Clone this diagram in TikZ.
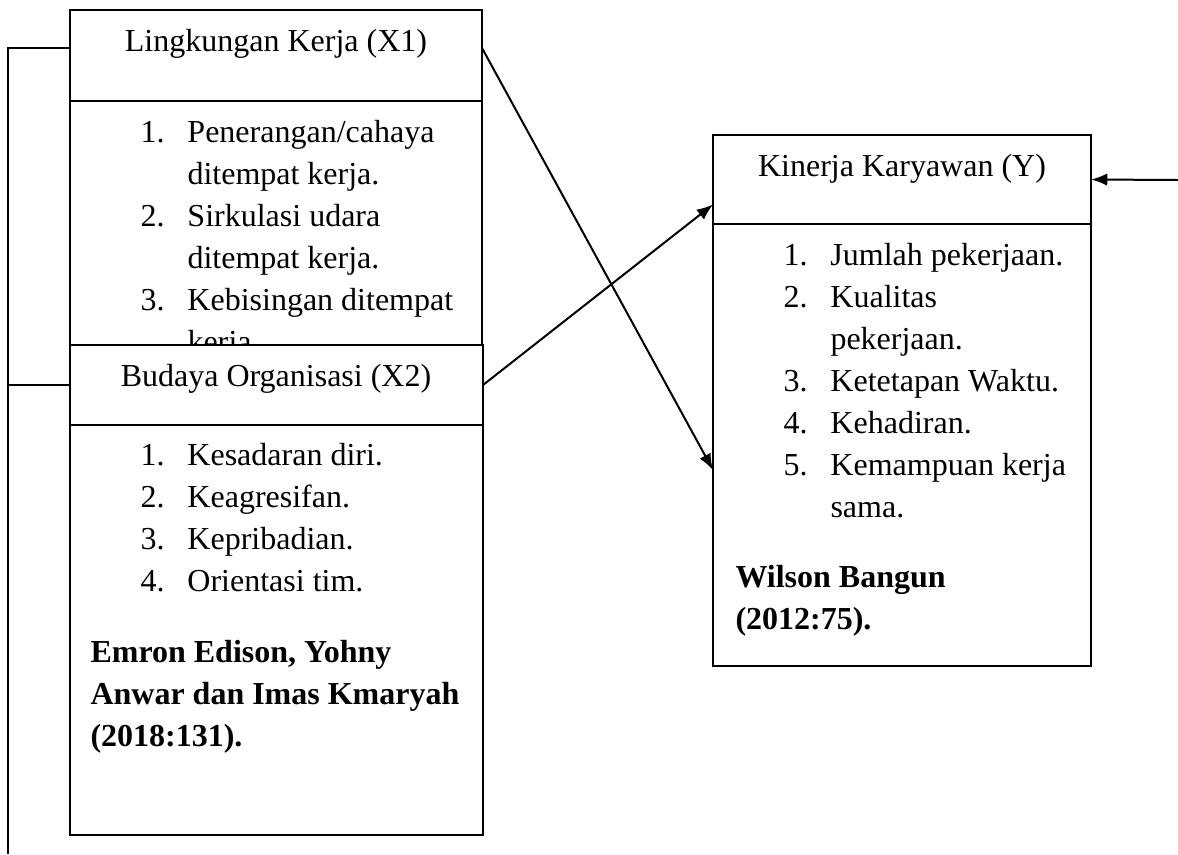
\documentclass[tikz,border=0pt]{standalone}
\usepackage{fontspec}
\setmainfont{Liberation Serif}
\usetikzlibrary{positioning,arrows.meta}

\newcommand{\itemlist}[1]{\begin{tabular}[t]{@{}p{18.8pt}@{}l@{}}#1\end{tabular}}
\newcommand{\srclist}[1]{\begin{tabular}[t]{@{}l@{}}#1\end{tabular}}

\tikzset{
  box/.style={draw, line width=0.8pt, fill=white, inner sep=0pt, outer sep=0pt, anchor=north west},
  txt/.style={inner sep=0pt, anchor=base west},
  src/.style={txt, font=\fontsize{12.8}{16.8}\selectfont\bfseries},
  conn/.style={line width=0.8pt},
  arr/.style={conn, -{Latex[length=6.5pt,width=5pt]}}
}

\begin{document}
\begin{tikzpicture}[x=0.4pt, y=-0.4pt, every node/.style={font=\fontsize{12.8}{16.8}\selectfont}]
\useasboundingbox (0,0) rectangle (1178,854);

% X1
\node[box, minimum width=164.8pt, minimum height=36.4pt] (x1head) at (70,10) {};
\node[box, minimum width=164.8pt, minimum height=131.6pt, below=0pt of x1head] (x1body) {};
\node[txt, anchor=base] (x1title) at (276,51) {Lingkungan Kerja (X1)};
\node[txt] (x1list) at (140,142) {\itemlist{1. & Penerangan/cahaya\\ & ditempat kerja.\\ 2. & Sirkulasi udara\\ & ditempat kerja.\\ 3. & Kebisingan ditempat\\ & kerja.}};

% X2
\node[box, minimum width=165.2pt, minimum height=32pt] (x2head) at (70,345) {};
\node[box, minimum width=165.2pt, minimum height=164pt, below=0pt of x2head] (x2body) {};
\node[txt, anchor=base] (x2title) at (276,386) {Budaya Organisasi (X2)};
\node[txt] (x2list) at (140,465) {\itemlist{1. & Kesadaran diri.\\ 2. & Keagresifan.\\ 3. & Kepribadian.\\ 4. & Orientasi tim.}};
\node[src] (x2src) at (90,662) {\srclist{Emron Edison, Yohny\\ Anwar dan Imas Kmaryah\\ (2018:131).}};

% Y
\node[box, minimum width=151.2pt, minimum height=35.6pt] (yhead) at (713,135) {};
\node[box, minimum width=151.2pt, minimum height=176.8pt, below=0pt of yhead] (ybody) {};
\node[txt, anchor=base] (ytitle) at (902,176) {Kinerja Karyawan (Y)};
\node[txt] (ylist) at (783,265) {\itemlist{1. & Jumlah pekerjaan.\\ 2. & Kualitas\\ & pekerjaan.\\ 3. & Ketetapan Waktu.\\ 4. & Kehadiran.\\ 5. & Kemampuan kerja\\ & sama.}};
\node[src] (ysrc) at (735,587) {\srclist{Wilson Bangun\\ (2012:75).}};

% connectors
\coordinate (lbot) at (8,854);
\coordinate (yin) at (1178,180);
\draw[conn] ([yshift=3pt]x1head.west) -| (lbot);
\draw[conn] (x2head.west) -- (x2head.west -| lbot);
\draw[arr] ([yshift=3pt]x1head.east) -- ([yshift=-10pt]ybody.west);
\draw[arr] (x2head.east) -- ([yshift=-10pt]yhead.west);
\draw[arr] (yin) -- (yhead.east);
\end{tikzpicture}
\end{document}
